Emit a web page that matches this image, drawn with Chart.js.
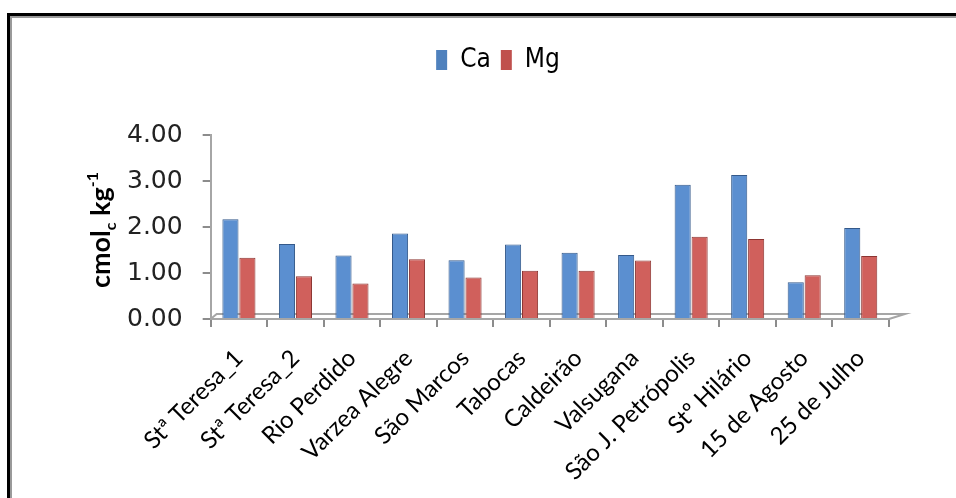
<!DOCTYPE html>
<html>
<head>
<meta charset="utf-8">
<script src="https://cdn.jsdelivr.net/npm/chart.js@4.4.1/dist/chart.umd.min.js"></script>
<style>
  html, body { margin: 0; padding: 0; background: #fff; overflow: hidden; }
  #wrap { position: relative; width: 956px; height: 498px; }
  #frame {
    position: absolute; left: 7px; top: 13px; width: 1000px; height: 600px;
    border-left: 3px solid #000; border-top: 3px solid #000;
    box-shadow: inset 2px 2px 0 #9a9a9a;
  }
  canvas { position: absolute; left: 0; top: 0; }
</style>
</head>
<body>
<div id="wrap">
  <div id="frame"></div>
  <canvas id="chart" width="956" height="498"></canvas>
</div>
<script>
// Data
const sites = ['Stª Teresa_1', 'Stª Teresa_2', 'Rio Perdido', 'Varzea Alegre', 'São Marcos', 'Tabocas',
               'Caldeirão', 'Valsugana', 'São J. Petrópolis', 'Stº Hilário', '15 de Agosto', '25 de Julho'];
const caValues = [2.17, 1.63, 1.38, 1.86, 1.28, 1.62, 1.44, 1.39, 2.92, 3.13, 0.80, 1.98];
const mgValues = [1.33, 0.93, 0.77, 1.30, 0.90, 1.05, 1.05, 1.27, 1.79, 1.74, 0.95, 1.37];
const yTicks = [0, 1, 2, 3, 4];

// horizontal shading so the bars look a bit like the cylinders
function shade(light, dark) {
    return (ctx) => {
        const el = ctx.element;
        if (!el || el.width === undefined || !isFinite(el.x)) return light;
        const c = ctx.chart.ctx;
        const x0 = el.x - el.width / 2;
        const g = c.createLinearGradient(x0, 0, x0 + el.width, 0);
        g.addColorStop(0, dark);
        g.addColorStop(0.35, light);
        g.addColorStop(1, dark);
        return g;
    };
}

// extra room under the legend
const legendGap = {
    id: 'legendGap',
    beforeInit(chart) {
        const fit = chart.legend.fit;
        chart.legend.fit = function () {
            fit.bind(chart.legend)();
            this.height += 52;
        };
    }
};

// gray 3D-ish floor under the bars
const floorPlugin = {
    id: 'floor',
    beforeDatasetsDraw(chart) {
        const { ctx, chartArea: a } = chart;
        ctx.save();
        ctx.strokeStyle = '#a6a6a6';
        ctx.lineWidth = 2;
        ctx.beginPath();
        ctx.moveTo(a.left, a.bottom);
        ctx.lineTo(a.left + 6, a.bottom - 5);
        ctx.lineTo(a.right + 16, a.bottom - 5);
        ctx.lineTo(a.right, a.bottom);
        ctx.stroke();
        ctx.restore();
    }
};

// y title with subscript c and superscript -1
const yTitlePlugin = {
    id: 'yTitle',
    afterDraw(chart) {
        const { ctx, chartArea: a } = chart;
        const cy = (a.top + a.bottom) / 2 + 3;
        ctx.save();
        ctx.translate(110, cy);
        ctx.rotate(-Math.PI / 2);
        ctx.fillStyle = '#000';
        ctx.textBaseline = 'alphabetic';
        const big = 'bold 27px Lato';
        const small = 'bold 16px Lato';
        const parts = [['cmol', big, 0], ['c', small, 6], [' kg', big, 0], ['-1', small, -12]];
        let w = 0;
        parts.forEach(p => { ctx.font = p[1]; w += ctx.measureText(p[0]).width; });
        let x = -w / 2;
        parts.forEach(p => {
            ctx.font = p[1];
            ctx.fillText(p[0], x, p[2]);
            x += ctx.measureText(p[0]).width;
        });
        ctx.restore();
    }
};

new Chart(document.getElementById('chart').getContext('2d'), {
    type: 'bar',
    data: {
        labels: sites,
        datasets: [
            {
                label: 'Ca',
                data: caValues,
                backgroundColor: shade('#5b8fd0', '#3a6399'),
                borderColor: '#34598a',
                borderWidth: 1,
                categoryPercentage: 0.6,
                barPercentage: 0.95
            },
            {
                label: 'Mg',
                data: mgValues,
                backgroundColor: shade('#d0605c', '#9c3b38'),
                borderColor: '#8c3532',
                borderWidth: 1,
                categoryPercentage: 0.6,
                barPercentage: 0.95
            }
        ]
    },
    options: {
        responsive: false,
        animation: false,
        layout: { padding: { left: 107, right: 67, top: 37, bottom: -5 } },
        plugins: {
            tooltip: { enabled: false },
            legend: {
                position: 'top',
                labels: {
                    color: '#000',
                    font: { family: "'DejaVu Sans Condensed', Lato", size: 26 },
                    boxWidth: 11,
                    boxHeight: 20,
                    padding: 10,
                    generateLabels(chart) {
                        return chart.data.datasets.map((ds, i) => ({
                            text: ds.label,
                            fillStyle: i === 0 ? '#4f81bd' : '#c0504d',
                            strokeStyle: i === 0 ? '#4f81bd' : '#c0504d',
                            lineWidth: 0,
                            datasetIndex: i
                        }));
                    }
                }
            }
        },
        scales: {
            x: {
                grid: { drawOnChartArea: false, color: '#8c8c8c', tickLength: 8, lineWidth: 2 },
                border: { color: '#a6a6a6', width: 2 },
                ticks: {
                    color: '#000',
                    font: { family: 'Lato', size: 24 },
                    minRotation: 45,
                    maxRotation: 45,
                    padding: 17,
                    autoSkip: false
                }
            },
            y: {
                min: 0,
                max: 4,
                afterBuildTicks(scale) { scale.ticks = yTicks.map(v => ({ value: v })); },
                grid: { drawOnChartArea: false, color: '#8c8c8c', tickLength: 8, lineWidth: 2 },
                border: { color: '#a6a6a6', width: 2 },
                ticks: {
                    color: '#222',
                    font: { family: 'DejaVu Sans', size: 25 },
                    padding: 20,
                    callback: v => Number(v).toFixed(2)
                }
            }
        }
    },
    plugins: [legendGap, floorPlugin, yTitlePlugin]
});
</script>
</body>
</html>
